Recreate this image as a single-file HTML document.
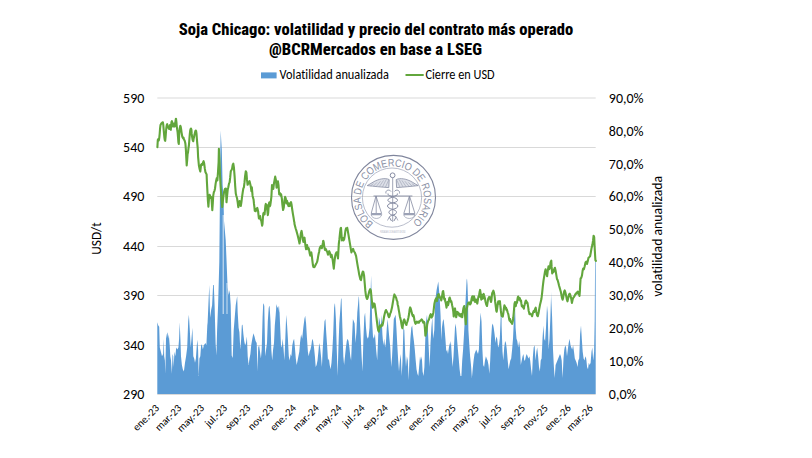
<!DOCTYPE html>
<html><head><meta charset="utf-8"><title>Soja Chicago</title>
<style>
html,body{margin:0;padding:0;background:#fff;}
svg{display:block;}
.t{font-family:"Carlito","Liberation Sans",sans-serif;fill:#000;font-variant-ligatures:none;}
.ti{font-family:"Roboto Condensed","Liberation Sans",sans-serif;font-weight:800;fill:#000;}
</style></head><body>
<svg width="812" height="458" viewBox="0 0 812 458">
<rect width="812" height="458" fill="#fff"/>

<line x1="157.3" y1="98.0" x2="595.7" y2="98.0" stroke="#d9d9d9" stroke-width="1"/>
<line x1="157.3" y1="147.5" x2="595.7" y2="147.5" stroke="#d9d9d9" stroke-width="1"/>
<line x1="157.3" y1="196.5" x2="595.7" y2="196.5" stroke="#d9d9d9" stroke-width="1"/>
<line x1="157.3" y1="246.5" x2="595.7" y2="246.5" stroke="#d9d9d9" stroke-width="1"/>
<line x1="157.3" y1="295.5" x2="595.7" y2="295.5" stroke="#d9d9d9" stroke-width="1"/>
<line x1="157.3" y1="345.5" x2="595.7" y2="345.5" stroke="#d9d9d9" stroke-width="1"/>
<line x1="157.3" y1="394.5" x2="595.7" y2="394.5" stroke="#d9d9d9" stroke-width="1"/>
<g id="seal">
<circle cx="393.5" cy="197.4" r="42.0" fill="none" stroke="#7f859c" stroke-width="1.1"/>
<circle cx="392.0" cy="197.6" r="29.6" fill="none" stroke="#9ba1b5" stroke-width="0.7"/>
<path id="sealarc" d="M 373.52 223.34 A 31.6 31.6 0 1 1 412.75 222.17" fill="none"/>
<text font-family="'Liberation Sans',sans-serif" font-size="10.6" fill="#8a90a5" textLength="156.2" lengthAdjust="spacingAndGlyphs"><textPath href="#sealarc" startOffset="0">BOLSA DE COMERCIO DE ROSARIO</textPath></text>
<g fill="none" stroke="#858ba2" stroke-width="0.8">
<circle cx="392.6" cy="175.3" r="2.4" stroke-width="1"/>
<path d="M 392.7 177.7 L 392.7 222"/>
<path d="M 389.2 179.6 C 385.5 177.6 378.5 178.8 373 182.2 C 371 183.4 369 184.6 367.2 185.6 C 374 186.4 381 187 388.8 187.6 Z" fill="#dde0e8"/>
<path d="M 396.2 179.6 C 399.9 177.6 406.9 178.8 412.4 182.2 C 414.4 183.4 416.4 184.6 418.2 185.6 C 411.4 186.4 404.4 187.0 396.6 187.6 Z" fill="#dde0e8"/>
<path d="M 370.5 185.8 L 373.5 183.6 M 373.5 186 L 377 182.4 M 376.5 186.2 L 380.5 181.2 M 379.5 186.4 L 383.5 180.4 M 382.5 186.8 L 386.2 179.6 M 385.5 187 L 388.6 180.2 M 414.9 185.8 L 411.9 183.6 M 411.9 186.0 L 408.4 182.4 M 408.9 186.2 L 404.9 181.2 M 405.9 186.4 L 401.9 180.4 M 402.9 186.8 L 399.2 179.6 M 399.9 187.0 L 396.8 180.2" stroke-width="0.45"/>
<path d="M 373.5 196 L 412.4 196" stroke-width="0.9"/>
<path d="M 386 193.5 C 385 190 389.5 189 391 191.5 M 399.4 193.5 C 400.4 190 395.9 189 394.4 191.5" stroke-width="0.9"/>
<path d="M 376 196 L 371.2 213.4 M 376 196 L 381.6 213.4 M 376.2 196 L 376.2 213.4 M 409.5 196 L 403.8 213.4 M 409.5 196 L 414.9 213.4 M 409.4 196 L 409.4 213.4"/>
<path d="M 371 213 L 381.8 213 L 381.6 215.2 L 371.2 215.2 Z M 403.6 213 L 415 213 L 414.8 215.2 L 403.8 215.2 Z" fill="#9ca2b6" stroke="none"/>
<path d="M 371 214.5 C 372 219.8 380.8 219.8 381.8 214.5 M 403.6 214.5 C 404.6 219.8 414 219.8 415 214.5" stroke-width="0.6"/>
<path d="M 388 193.5 C 386 196 398.5 197.5 397.5 200.5 C 396.5 203.5 387.5 202.5 387.5 206 C 387.5 209.5 397 209 396.5 212.5 C 396 215.5 389 215 389.5 217.5 L 391.5 221" stroke-width="1"/>
<path d="M 397.4 193.5 C 399.4 196 386.9 197.5 387.9 200.5 C 388.9 203.5 397.9 202.5 397.9 206 C 397.9 209.5 388.4 209 388.9 212.5 C 389.4 215.5 396.4 215 395.9 217.5 L 393.9 221" stroke-width="1"/>
<path d="M 389.5 216.5 L 387.5 220.5 M 395.9 216.5 L 397.9 220.5" stroke-width="0.7"/>
</g>
<text x="392.7" y="233" font-family="'Liberation Sans',sans-serif" font-size="2.6" fill="#a3a8ba" text-anchor="middle" textLength="25" lengthAdjust="spacingAndGlyphs">FUNDADA EL 18 DE AGOSTO DE 1884</text>
</g>
<polygon points="157.3,394 157.3,322.3 158.3,325.6 159.2,326.7 159.8,347.5 160.9,351.8 162,356.2 163.1,354 163.8,338.7 164.2,356.2 164.9,360.6 165.3,373.7 166,338.7 166.8,334.3 167.5,332.2 168.1,338.7 168.8,334.3 169.7,345.3 170.3,356.2 171,360.6 171.9,373.7 172.5,354 173.2,356.2 173.6,367.1 174.5,351.8 175.4,356.2 176.2,347.5 177.3,349.6 178.4,347.5 179.1,338.7 179.7,322.3 180.4,338.7 181,356.2 181.9,364.9 182.8,369.3 183.9,371.5 185,362.8 186.1,356.2 187.2,347.5 188.2,321.2 188.9,314.7 189.8,330 190.7,347.5 191.5,338.7 192.4,327.8 193.3,356.2 194.2,358.4 195,362.8 195.9,358.4 196.8,345.3 197.4,339.8 198.1,349.6 198.7,375.9 199.4,358.4 200.3,356.2 201.2,344.2 202,345.3 202.9,349.6 203.8,345.3 204.6,344.2 205.5,343.1 206.4,345.3 207.3,325.6 207.6,322.8 208.6,300.1 209.3,285 210.1,317.7 211.1,310.2 212.1,305.2 213.1,285 213.8,285 214.6,305.2 215.6,342.9 216.4,355.5 217.1,330.3 218.1,305.2 219.3,262 219.9,200 220.4,150 220.7,130.5 221.2,140 221.8,150 222.6,185 223.4,195 224,221 225.7,240 226.6,262 227.3,280 227.7,287.6 228.7,295.1 229.7,290.1 230.7,305.2 231.7,355.5 232.7,358 233.7,330.3 234.7,317.7 235.7,305.2 237,297.2 237.2,296.2 237.7,312.5 238.6,327.8 239.4,332.2 240.3,349.6 241.2,338.7 241.8,325.6 242.5,324.5 243.4,334.3 244.2,340.9 245.1,345.3 246,343.1 246.9,336.5 247.7,356.2 248.6,364.9 249.5,358.4 250.4,354 251.2,345.3 252.3,338.7 253.4,333.2 254.5,336.5 255.6,340.9 256.7,343.1 257.4,371.5 258.2,347.5 259.1,345.3 260,351.8 260.9,358.4 261.7,349.6 262.6,316.9 263.2,303.7 263.6,303.6 264.3,305.9 265.2,356.2 266.1,349.6 267,343.1 267.8,321.2 268.7,308.1 269.2,306.3 269.6,305.9 270.5,321.2 271.3,349.6 272.2,360.6 273.1,349.6 274,343.1 274.8,325.6 275.7,314.7 276.5,303.6 276.6,304.8 277.5,308.1 278.3,305.9 279.2,312.5 279.3,305.4 280.1,325.6 281,345.3 281.8,347.5 282.7,338.7 283.6,349.6 284.4,360.6 285.3,338.7 286.2,314.7 287.1,325.6 287.9,338.7 288.8,356.2 289.7,360.6 290.6,354 291.4,356.2 292.3,345.3 293.2,340.9 294.1,338.7 294.9,347.5 295.8,358.4 296.7,364.9 297.6,360.6 298.4,356.2 299.3,351.8 300,343.1 301.1,334.3 302.2,338.7 303.3,327.8 304.4,319 305.2,315.8 306.1,323.4 307,338.7 307.9,351.8 308.7,356.2 309.6,351.8 310.5,349.6 311.4,345.3 312.2,338.7 313.1,340.9 314,347.5 314.9,356.2 315.7,367.1 316.6,364.9 317.5,360.6 318.4,351.8 319.2,343.1 320.1,347.5 321,356.2 321.9,367.1 322.7,349.6 323.6,334.3 324.5,321.2 325.4,319 326.2,332.2 327.1,345.3 328,360.6 328.9,358.4 329.7,364.9 330.6,369.3 331.5,362.8 332.4,349.6 333.2,334.3 334.1,308.1 334.7,303.6 335,303.7 335.9,319 336.7,347.5 337.6,375.9 338.5,345.3 339.3,323.4 340.4,308.1 341,299 341.5,298.3 342.4,327.8 343.3,356.2 344.1,364.9 345,356.2 345.9,347.5 346.8,340.9 347.6,338.7 348.5,340.9 349.4,347.5 350.3,356.2 351.1,360.6 352,338.7 352.9,319 353.8,321.2 354.6,323.4 355.5,343.1 356.4,332.2 357.3,312.5 358.1,303.7 358.7,296.2 359,297.2 359.9,321.2 360.8,338.7 361.6,356.2 362.5,371.5 363.4,338.7 364.3,316.9 365.1,312.5 366,327.8 366.9,336.5 367.8,338.7 368.6,336.5 369.5,327.8 370.2,305 370.7,290 371.1,275.5 371.5,290 371.9,310 372.1,321.2 373,336.5 373.9,338.7 374.8,334.3 375,334.3 376.1,349.6 377.2,360.6 378.1,338.7 378.9,316.9 379.8,321.2 380.7,327.8 381.6,314.7 382.4,334.3 383.3,345.3 384.2,338.7 385.1,347.5 385.9,343.1 386.8,327.8 387.7,319 388.6,330 389.4,338.7 390.3,347.5 391.2,367.1 392.1,356.2 392.9,338.7 393.8,319 394.7,316.9 395.6,314.7 396.4,327.8 397.3,345.3 398.2,360.6 399,371.5 399.9,360.6 400.8,354 401.7,375.9 402.5,360.6 403.4,327.8 404.3,330 405.2,354 406,367.1 406.9,356.2 407.8,360.6 408.7,380.2 409.5,356.2 410.4,338.7 411.3,327.8 412.2,325.6 413,334.3 413.9,340.9 414.8,349.6 415.7,360.6 416.5,369.3 417.4,373.7 418.3,375.9 419.1,367.1 420,356.2 420.9,360.6 421.8,356.2 422.6,371.5 423.5,375.9 424.4,367.1 425.3,338.7 426.1,321.2 427,314.7 427.9,330 428.8,349.6 429.6,367.1 430.5,343.1 431.4,327.8 432.3,316.9 433.1,338.7 434.3,330 435.3,300 436.6,290 438.3,281.5 439.2,292 439.8,300 440.6,316 441.3,340 441.9,327.8 442.8,321.2 443.6,319 444.5,327.8 445.4,338.7 446.3,351.8 447.1,349.6 448,354 448.9,347.5 449.8,343.1 450,345.3 450.9,340.9 451.8,356.2 452.6,367.1 453.5,356.2 454.4,338.7 455.2,323.4 456.1,327.8 457,338.7 457.9,349.6 458.7,358.4 459.6,369.3 460.5,375.9 461.4,375.9 462.2,360.6 463.1,349.6 464,334.3 464.9,316.9 465.6,300 466.6,280 467,278.6 467.5,285 468,300 468.4,330 469.2,343.1 470.1,356.2 471,364.9 471.9,378.1 472.7,369.3 473.6,360.6 474.5,354 475.4,351.8 476.2,349.6 477.1,351.8 478,354 478.9,349.6 479.7,327.8 480.6,312.5 481.5,321.2 482.4,349.6 483.2,364.9 484.1,367.1 485,360.6 485.9,356.2 486.7,358.4 487.6,360.6 488.5,364.9 489.3,373.7 490.2,360.6 491.1,338.7 492,325.6 492.8,323.4 493.7,327.8 494.6,334.3 495.5,343.1 496.3,336.5 497.2,338.7 498.1,347.5 499,345.3 499.8,338.7 500.7,316.9 501.5,305.3 501.6,325.6 502.5,351.8 503.3,360.6 504.2,347.5 505.1,340.9 506,343.1 506.8,349.6 507.7,360.6 508.6,369.3 509.4,364.9 510.3,360.6 511.2,358.4 512.1,349.6 513,338.7 513.8,321.2 514.7,312.5 515.1,308.5 515.6,327.8 516.5,338.7 517.3,340.9 518.2,347.5 519.1,340.9 520,347.5 520.8,364.9 521.7,360.6 522.6,356.2 523.4,354 524.3,360.6 525,360.6 525.9,356.2 526.8,354 527.6,356.2 528.5,358.4 529.4,356.2 530.2,360.6 531.1,369.3 532,375.9 532.9,356.2 533.7,347.5 534.6,345.3 535.5,360.6 536.4,351.8 537.2,347.5 538.1,356.2 539,367.1 539.9,371.5 540.7,360.6 541.6,358.4 542.5,338.7 543.4,325.6 544.2,338.7 545.1,340.9 546,327.8 546.9,308.1 547,305.4 547.7,312.5 548.6,349.6 549.5,338.7 550.4,316.9 551.2,291.6 551.2,297.2 552.1,316.9 553,349.6 553.9,367.1 554.7,378.1 555.6,364.9 556.5,362.8 557.4,360.6 558.2,358.4 559.1,356.2 560,354 560.9,356.2 561.7,360.6 562.6,378.1 563.5,358.4 564.3,349.6 565.2,345.3 566.1,347.5 567,356.2 567.8,349.6 568.7,343.1 569.6,338.7 570.5,345.3 571.3,347.5 572.2,349.6 573.1,345.3 574,351.8 574.8,358.4 575.7,360.6 576.6,362.8 577.5,367.1 578.3,360.6 579.2,358.4 580.1,334.3 581,325.6 581.8,338.7 582.7,351.8 583.6,358.4 584.5,360.6 585.3,356.2 586.2,358.4 587.1,367.1 588,369.3 588.8,362.8 589.7,364.9 590.6,362.8 591.5,351.8 592.3,347.5 593.2,360.6 594.1,351.8 594.7,320 595.1,262 595.7,262 595.7,394" fill="#5b9bd5"/>
<line x1="223.2" y1="215" x2="223.2" y2="314" stroke="#fff" stroke-width="0.8"/><line x1="227.0" y1="283" x2="227.0" y2="314" stroke="#fff" stroke-width="0.7"/>
<polyline points="157.4,147.1 157.8,140 158.2,139.2 158.5,140.8 158.9,140 159.3,137.6 159.7,133.7 160.1,128.2 160.5,125 160.9,124.2 161.3,123.5 162.1,122.7 162.9,122.3 163.3,125 163.7,129.8 164.1,134.5 164.4,137.6 164.8,140 165.2,140.8 165.6,136.8 166,131.3 166.4,127.4 166.8,125 167.2,124.2 167.6,125.8 168,127.4 168.4,126.6 168.8,128.2 169.2,129 169.6,126.6 170,125 170.3,127.4 170.8,129.8 171.1,125.8 171.5,121.9 171.9,121.1 172.3,122.7 172.7,125.8 173.1,126.6 173.5,124.2 173.9,123.5 174.3,125 174.7,126.6 175.1,125 175.5,121.1 175.9,118.7 176,118.7 176.4,121.9 176.8,126.6 177.2,129.7 177.6,132.1 178,136.8 178.4,142.3 178.8,143.9 179.1,136 179.5,129.7 179.9,127.4 180.3,125.8 180.7,126.6 181.1,129 181.5,132.1 181.9,134.5 182.3,136.8 182.7,137.6 183.1,138.4 183.5,137.6 183.9,139.2 184.3,140 184.7,140.8 185.1,142.3 185.4,143.7 185.9,150 186.3,158 186.7,165.5 187.2,160 187.6,154 188,152.5 188.5,148 188.9,145.5 189.4,139 189.8,134 190.2,130.5 190.6,129 191,128.6 191.4,129.7 191.7,133.7 192.1,136.8 192.5,139.2 192.9,140.8 193.3,141.2 193.7,138.4 194.1,136.8 194.5,134.5 194.9,132.9 195.3,131.3 195.7,130.5 196.1,130.9 196.5,133.7 196.9,139.2 197.3,143.9 197.7,147.9 198.1,156.8 198.9,165.5 199.6,169 200.3,171.6 201.1,164.7 202,163.8 202.4,164.8 203,162.4 203.6,161.2 204.2,163.6 204.8,168.4 205.4,172 206,173.2 206.6,174.4 206.9,181.6 207.4,191.1 207.9,200.7 208.4,206.7 209,198.3 209.6,194.7 210.2,195.9 210.8,198.3 211.4,197.1 212,205.5 212.3,210.3 212.8,203.1 213.2,195.9 213.8,192.3 214.4,191.1 215,188.7 215.6,183.9 216.2,180.4 216.8,178 217.4,180.4 218,172 218.6,162.4 218.9,148.7 219.5,161 220,175 220.6,186 221.2,195 221.8,203 222.3,207 222.8,202 223.4,196.5 224,192.3 224.6,189.9 225.1,188.7 225.9,188.6 226.5,202.3 227.1,196 227.7,189.8 228.3,187.3 229,183.6 229.6,182.4 230.2,177.4 230.8,171.2 231.5,169.9 232.1,168.7 232.7,164.9 233.3,163.7 233.9,167.4 234.6,176.1 235.2,186.1 235.8,193.6 236.4,196 237.1,198.5 237.7,202.3 238.3,207.2 238.9,204.8 239.6,201 240.2,203.5 240.8,206 241.4,202.3 242,197.3 242.7,192.3 243.3,188.6 243.9,187.3 244.5,182.4 245.1,176.1 245.8,171.2 246.4,172.4 247,179.9 247.6,184.8 248.2,183.6 248.9,182.4 249.5,181.1 250.1,183.6 250.7,186.1 251.4,191.1 251.8,187.2 252.6,195.9 253.6,199.8 254,203.9 254.4,207.1 254.8,210.8 255.7,211.2 256.5,208.7 257.3,207.9 258.1,211.2 258.5,215.2 258.9,218.4 259.7,217.6 260.1,216 260.5,219.2 261.3,220.9 262.1,225.7 262.5,224.1 262.9,217.6 263.3,213.6 263.7,212.8 264.6,214.4 265,209.6 265.4,205.5 265.8,203.9 266.2,207.1 266.6,204.7 267,208.7 267.4,211.2 267.8,215.2 268.2,212.8 268.6,207.1 269,203.1 269.4,202.3 269.8,206.3 270.2,205.5 270.6,203.1 271,199.8 271.4,196.6 272,185.1 272.6,186.4 273.3,189 273.9,183.8 274.6,179.9 275.2,176.6 275.9,179.9 276.6,187.7 277.2,183.8 277.9,181.2 278.5,185.1 279.2,194.3 279.8,193 280.5,195.6 281.1,194.3 281.8,198.2 282.4,204.8 283.1,210 283.8,207.4 284.4,200.8 285.1,196.9 285.7,198.2 286.4,203.4 287,200.8 287.7,203.4 288.4,206.1 289,203.4 289.7,206.1 290.3,203.4 291,202.1 291.6,204.8 292.3,210 292.9,213.9 293.6,217.9 294.2,221.8 294.4,222.2 294.5,224.1 295.6,228.3 296.6,231.4 297.7,235.6 298.7,239.8 299.5,243.5 300.1,239.8 300.8,233.5 301.6,230.9 302.2,234.6 302.9,239.8 303.4,241.9 304,238.8 304.5,237.7 305,241.9 305.5,246.1 306.1,249.3 306.6,247.2 307.1,245.1 307.6,248.2 308.2,249.3 308.7,248.2 309.2,250.3 309.7,253.5 310.3,255.6 310.8,253.5 311.3,252.4 311.8,255.6 312.4,260.8 312.9,265 313.4,267.1 313.9,266.6 314.5,267.1 315,266.1 315.5,265 316,264 316.6,262.9 317.1,261.9 317.6,259.8 318.1,256.6 318.7,253.5 319.2,251.4 319.7,248.2 320.2,247.2 320.8,246.1 321.3,247.2 321.8,248.2 322.3,246.1 322.9,243 323.2,241 323.4,240.9 323.8,242.8 324.4,247.6 325,250 325.6,248.8 326.2,250 326.8,251.2 327.4,252.4 328,254.8 328.6,252.4 329.2,251.2 329.8,252.4 330.4,254.8 331,257.2 331.6,254.8 332.2,257.2 332.8,260.8 333.4,265.6 333.8,268.6 334.2,264.4 334.7,259.6 335.2,256 335.8,253.6 336.4,252.4 337,252.4 337.6,256 338,258.4 338.4,251.2 338.8,244 339.4,239.2 340,233.2 340.6,228.4 341,227.8 341.4,233.2 341.9,240.4 342.4,239.2 343,238 343.6,240.4 344.2,239.2 344.8,235.6 345.4,230.8 346,228.4 346.6,229.6 347.2,227.8 347.8,230.8 348.4,234.4 349,238 349.6,241.6 350.2,245.2 350.8,248.8 351.4,252.4 351.8,251.3 352.4,250.1 353.1,248.9 353.7,250.7 354.3,251.9 354.9,252.6 355.5,254.4 356.1,256.2 356.7,259.9 357.3,263.6 357.9,267.2 358.6,270.9 359.2,274.6 359.8,277 360.4,279.4 361,280.1 361.6,277 362.2,273.3 362.8,271.5 363.4,272.1 364.1,275.8 364.7,283.1 365.3,290.4 365.9,295.3 366.5,297.8 367.1,299 367.7,297.8 368.3,295.3 368.9,292.9 369.6,290.4 370.2,289.2 370.8,290.4 371,292 371.6,298 372.2,304 372.8,307.6 373.4,305.2 374,303.4 374.6,304 375.2,307.6 375.8,312.4 376.4,317.2 377,322 377.6,326.8 378.2,330.4 378.8,331.6 379.4,328 380,325.6 380.6,326.8 381.2,325.6 381.8,324.4 382.4,325.6 383,323.2 383.6,319.6 384.2,316 384.8,313.6 385.4,311.2 386,310 386.6,311.2 387.2,312.4 387.8,313.6 388.4,316 389,317.2 389.6,316 390.2,313.6 390.8,312.4 391.4,310 392,307.6 392.6,304 393.2,300.4 393.8,296.8 394.4,294.4 395,295.6 395.6,296.8 396.2,298 396.8,300.4 397.4,301.6 397.6,304.2 398.2,306.4 398.7,309.6 399.3,312.9 399.8,316.2 400.4,318.4 400.9,320.5 401.4,323.8 402,327.1 402.5,328.2 403.1,323.8 403.6,320.5 404.2,319.4 404.7,320.5 405.3,322.7 405.8,323.8 406.4,324.9 406.9,322.7 407.4,321.6 408,319.4 408.5,317.3 409.1,314 409.6,309.6 410.2,307.4 410.7,308.5 411.3,310.7 411.8,312.9 412.4,315.1 412.9,316.2 413.4,315.1 414,317.3 414.5,320.5 415.1,322.7 415.6,323.8 416.2,322.7 416.7,321.6 417.3,322.2 417.8,322.7 418.4,321.6 418.9,322.7 419.4,321.6 420,321.1 420.5,320.5 421.1,320 421.6,319.4 422.2,320 422.7,321.6 423.3,322.7 423.8,321.6 424.4,322.7 424.9,328.2 425.4,335.8 426.4,331.6 427.2,324.6 428.1,321.1 429,319.4 429.9,315.9 430.7,314.1 431.6,317.6 432.5,315.9 433.4,312.4 434.4,303.7 435.2,300.2 436.1,298.4 437,301.1 437.9,294.9 438.7,294.1 439.6,297.6 440,297.1 440.8,297.9 441.2,300.4 441.6,299.1 442,296.3 442.4,293.9 442.8,291.5 443.2,291.1 443.6,293.9 444,297.9 444.4,299.6 444.9,298.7 445.2,301.2 445.7,302.8 446.1,305.2 446.5,307.6 446.9,305.2 447.3,302 447.7,303.6 448.1,305.2 448.5,303.6 448.9,300.4 449.3,298.3 449.7,297.5 450.1,298.7 450.5,300.4 450.9,302 451.3,301.2 451.7,302.8 452.1,305.2 452.5,306.8 452.9,309.2 453.3,311.7 453.7,316.5 454.1,313.3 454.6,309.2 455,308.4 455.4,311.7 455.8,314.9 456.2,317.3 456.6,314.9 457,311.7 457.4,312.5 457.8,314.1 458.2,312.5 458.6,313.3 459,314.9 459.4,315.7 459.8,314.1 460.2,314.9 460.6,316.5 461,315.7 461.4,314.1 461.8,314.9 462.2,317.3 462.6,314.1 463,310.9 463.4,308.4 463.9,306.8 464.2,306 464.7,309.2 465.1,316.5 465.5,321.4 465.8,324.3 466.3,314.1 466.7,309.2 467.5,305.2 468.3,302.8 469.1,302.4 469.9,302.8 470,304.4 470.8,303.6 471.2,301.2 471.6,298.7 472,297.1 472.4,296.3 472.8,297.9 473.2,300.4 473.6,298.7 474,296.3 474.4,297.9 474.9,300.4 475.2,302 475.7,301.2 476.1,299.6 476.5,301.2 476.9,302.4 477.3,303.6 477.7,301.2 478.1,298.7 478.5,296.3 478.9,297.1 479.3,293.9 479.7,291.5 480.1,289.9 480.5,292.3 480.9,296.3 481.3,299.6 481.7,297.1 482.1,294.7 482.5,297.1 482.9,298.7 483.3,295.5 483.7,293.9 484.1,295.5 484.6,297.1 485,298.7 485.4,301.2 485.8,302.8 486.2,304.4 486.6,305.2 487,306 487.4,303.6 487.8,301.2 488.2,298.7 488.6,297.9 489,297.1 489.4,298.7 489.8,297.1 490.2,297.9 490.6,300.4 491,302 491.4,300.4 491.8,296.3 492.2,293.1 492.6,292.3 493,291.9 493.4,290.7 493.9,292.3 494.2,293.9 494.7,297.1 495.1,301.2 495.5,304.4 495.9,307.6 496.3,310.9 496.7,311.7 497.1,309.2 497.5,306 497.9,302.8 498.3,301.2 498.7,303.6 499.1,302.8 499.5,302 499.9,301.2 500.4,306.2 500.8,310.2 501.2,313.4 501.6,315.9 502,314.2 502.4,315.1 502.8,316.7 503.2,314.2 503.6,311 504,307.8 504.4,305.4 504.9,306.2 505.2,307.8 505.7,308.6 506.1,307.8 506.5,310.2 506.9,309.4 507.3,311 507.7,312.6 508.1,313.4 508.5,315.1 508.9,317.5 509.3,319.9 509.7,320.7 510.1,319.1 510.5,320.7 510.9,322.3 511.3,321.5 511.7,323.1 512.1,323.9 512.5,322.3 512.9,320.7 513.3,317.5 513.7,313.4 514.1,308.6 514.5,303.7 515,302.1 515.4,302.9 515.8,306.2 516.2,303.7 516.6,302.1 517,302.9 517.4,299.7 517.8,297.3 518.2,296.5 518.6,298.1 519,299.7 519.4,298.9 519.8,298.1 520.2,299.7 520.6,301.3 521,300.5 521.4,303.7 521.8,306.2 522.2,305.4 522.6,307 523,306.2 523.4,307.8 523.9,308.6 524.2,306.2 524.7,304.6 525.1,302.9 525.5,301.3 525.9,300.5 526.3,301.3 526.7,302.9 527.1,302.1 527.5,302.9 527.9,305.4 528.3,307.8 528.7,311 529.1,312.6 529.5,314.2 529.9,313.4 530.7,314 531.4,314.7 532.1,316.2 532.8,313.3 533.6,311.2 534.3,311.9 535,309.1 535.7,307.6 536.4,311.9 537.1,315.5 537.8,316.2 538.5,313.3 539.2,309.1 540,304.8 540.7,301.9 541.4,299.1 542.1,293.4 542.8,286.3 543.5,280.6 544.2,276.3 544.9,272.1 545.6,269.2 546.4,273.5 547.1,276.3 547.8,270.6 548.5,266.4 549.2,269.2 549.9,267.8 550.6,262.1 551.3,260.7 551.6,266.4 552.2,273.5 552.8,270.6 553.5,272.1 554.2,269.2 554.9,267.8 555.6,270.6 556.3,274.9 557,279.2 557.6,280 558.5,283.3 559,285.5 559.5,287.1 560.1,289.3 560.9,292 561.5,295.3 562,298 562.6,299.7 563.1,298 563.6,294.8 564.2,291.5 564.7,290.4 565.3,292 565.8,294.2 566.4,296.9 566.9,299.7 567.5,301.3 568,299.1 568.6,296.4 569.1,294.2 569.7,293.7 570.2,294.8 570.8,296.9 571.3,299.1 571.9,302.9 572.4,300.8 572.9,298.6 573.5,297.5 574,296.9 574.6,295.9 575.1,294.8 575.7,293.7 576.2,293.1 576.8,293.7 577.3,292 577.9,291.5 578.4,292 579,294.2 579.5,295.9 579.9,290.9 580.1,286.1 580.6,278.5 581.3,277.7 582,275.4 582.6,270.8 583.2,268.5 583.9,269.3 584.7,266.2 585.5,262.4 586.2,261.6 587,263.9 587.8,260.9 588.5,257.8 589.3,257.1 590.1,256.3 590.8,252.5 591.6,247.9 592.4,244.8 593.1,240.2 593.6,235.7 594.2,237.2 594.6,246.3 595.1,255.5 595.4,260.1 595.9,260.9" fill="none" stroke="#62a63c" stroke-width="2.1" stroke-linejoin="round" stroke-linecap="round"/>
<text class="ti" x="376" y="34.5" font-size="16.5" text-anchor="middle" textLength="394.5" lengthAdjust="spacingAndGlyphs">Soja Chicago: volatilidad y precio del contrato más operado</text>
<text class="ti" x="375.5" y="54.9" font-size="16.5" text-anchor="middle" textLength="213" lengthAdjust="spacingAndGlyphs">@BCRMercados en base a LSEG</text>
<rect x="261" y="72.4" width="15.6" height="6" fill="#5b9bd5"/>
<text class="t" x="279.6" y="78.7" font-size="13.3" textLength="109.3" lengthAdjust="spacingAndGlyphs">Volatilidad anualizada</text>
<line x1="405.5" y1="75" x2="423.7" y2="75" stroke="#62a63c" stroke-width="2"/>
<text class="t" x="425.5" y="78.7" font-size="13.3" textLength="69.1" lengthAdjust="spacingAndGlyphs">Cierre en USD</text>
<text class="t" x="144.4" y="102.6" font-size="14" text-anchor="end" textLength="21.3" lengthAdjust="spacingAndGlyphs">590</text>
<text class="t" x="144.4" y="152.1" font-size="14" text-anchor="end" textLength="21.3" lengthAdjust="spacingAndGlyphs">540</text>
<text class="t" x="144.4" y="201.1" font-size="14" text-anchor="end" textLength="21.3" lengthAdjust="spacingAndGlyphs">490</text>
<text class="t" x="144.4" y="251.1" font-size="14" text-anchor="end" textLength="21.3" lengthAdjust="spacingAndGlyphs">440</text>
<text class="t" x="144.4" y="300.1" font-size="14" text-anchor="end" textLength="21.3" lengthAdjust="spacingAndGlyphs">390</text>
<text class="t" x="144.4" y="350.1" font-size="14" text-anchor="end" textLength="21.3" lengthAdjust="spacingAndGlyphs">340</text>
<text class="t" x="144.4" y="399.1" font-size="14" text-anchor="end" textLength="21.3" lengthAdjust="spacingAndGlyphs">290</text>
<text class="t" x="608.8" y="102.6" font-size="14" textLength="34.8" lengthAdjust="spacingAndGlyphs">90,0%</text>
<text class="t" x="608.8" y="135.5" font-size="14" textLength="34.8" lengthAdjust="spacingAndGlyphs">80,0%</text>
<text class="t" x="608.8" y="168.5" font-size="14" textLength="34.8" lengthAdjust="spacingAndGlyphs">70,0%</text>
<text class="t" x="608.8" y="201.4" font-size="14" textLength="34.8" lengthAdjust="spacingAndGlyphs">60,0%</text>
<text class="t" x="608.8" y="234.4" font-size="14" textLength="34.8" lengthAdjust="spacingAndGlyphs">50,0%</text>
<text class="t" x="608.8" y="267.3" font-size="14" textLength="34.8" lengthAdjust="spacingAndGlyphs">40,0%</text>
<text class="t" x="608.8" y="300.3" font-size="14" textLength="34.8" lengthAdjust="spacingAndGlyphs">30,0%</text>
<text class="t" x="608.8" y="333.2" font-size="14" textLength="34.8" lengthAdjust="spacingAndGlyphs">20,0%</text>
<text class="t" x="608.8" y="366.2" font-size="14" textLength="34.8" lengthAdjust="spacingAndGlyphs">10,0%</text>
<text class="t" x="608.8" y="399.1" font-size="14" textLength="27.7" lengthAdjust="spacingAndGlyphs">0,0%</text>
<text class="t" transform="translate(100.8,238.5) rotate(-90)" font-size="13.3" text-anchor="middle" textLength="32.4" lengthAdjust="spacingAndGlyphs">USD/t</text>
<text class="t" transform="translate(662.0,236.3) rotate(-90)" font-size="13.3" text-anchor="middle" textLength="121" lengthAdjust="spacingAndGlyphs">volatilidad anualizada</text>
<text class="t" transform="translate(159.8,408.8) rotate(-45)" font-size="10.6" text-anchor="end" textLength="32.19" lengthAdjust="spacingAndGlyphs">ene.-23</text>
<text class="t" transform="translate(182.0,408.8) rotate(-45)" font-size="10.6" text-anchor="end" textLength="32.25" lengthAdjust="spacingAndGlyphs">mar.-23</text>
<text class="t" transform="translate(204.9,408.8) rotate(-45)" font-size="10.6" text-anchor="end" textLength="33.52" lengthAdjust="spacingAndGlyphs">may.-23</text>
<text class="t" transform="translate(227.8,408.8) rotate(-45)" font-size="10.6" text-anchor="end" textLength="26.61" lengthAdjust="spacingAndGlyphs">jul.-23</text>
<text class="t" transform="translate(251.1,408.8) rotate(-45)" font-size="10.6" text-anchor="end" textLength="31.06" lengthAdjust="spacingAndGlyphs">sep.-23</text>
<text class="t" transform="translate(274.0,408.8) rotate(-45)" font-size="10.6" text-anchor="end" textLength="31.09" lengthAdjust="spacingAndGlyphs">nov.-23</text>
<text class="t" transform="translate(296.9,408.8) rotate(-45)" font-size="10.6" text-anchor="end" textLength="32.19" lengthAdjust="spacingAndGlyphs">ene.-24</text>
<text class="t" transform="translate(319.5,408.8) rotate(-45)" font-size="10.6" text-anchor="end" textLength="32.25" lengthAdjust="spacingAndGlyphs">mar.-24</text>
<text class="t" transform="translate(342.4,408.8) rotate(-45)" font-size="10.6" text-anchor="end" textLength="33.52" lengthAdjust="spacingAndGlyphs">may.-24</text>
<text class="t" transform="translate(365.3,408.8) rotate(-45)" font-size="10.6" text-anchor="end" textLength="26.61" lengthAdjust="spacingAndGlyphs">jul.-24</text>
<text class="t" transform="translate(388.6,408.8) rotate(-45)" font-size="10.6" text-anchor="end" textLength="31.06" lengthAdjust="spacingAndGlyphs">sep.-24</text>
<text class="t" transform="translate(411.5,408.8) rotate(-45)" font-size="10.6" text-anchor="end" textLength="31.09" lengthAdjust="spacingAndGlyphs">nov.-24</text>
<text class="t" transform="translate(434.4,408.8) rotate(-45)" font-size="10.6" text-anchor="end" textLength="32.19" lengthAdjust="spacingAndGlyphs">ene.-25</text>
<text class="t" transform="translate(456.5,408.8) rotate(-45)" font-size="10.6" text-anchor="end" textLength="32.25" lengthAdjust="spacingAndGlyphs">mar.-25</text>
<text class="t" transform="translate(479.5,408.8) rotate(-45)" font-size="10.6" text-anchor="end" textLength="33.52" lengthAdjust="spacingAndGlyphs">may.-25</text>
<text class="t" transform="translate(502.4,408.8) rotate(-45)" font-size="10.6" text-anchor="end" textLength="26.61" lengthAdjust="spacingAndGlyphs">jul.-25</text>
<text class="t" transform="translate(525.7,408.8) rotate(-45)" font-size="10.6" text-anchor="end" textLength="31.06" lengthAdjust="spacingAndGlyphs">sep.-25</text>
<text class="t" transform="translate(548.6,408.8) rotate(-45)" font-size="10.6" text-anchor="end" textLength="31.09" lengthAdjust="spacingAndGlyphs">nov.-25</text>
<text class="t" transform="translate(571.5,408.8) rotate(-45)" font-size="10.6" text-anchor="end" textLength="32.19" lengthAdjust="spacingAndGlyphs">ene.-26</text>
<text class="t" transform="translate(593.6,408.8) rotate(-45)" font-size="10.6" text-anchor="end" textLength="32.25" lengthAdjust="spacingAndGlyphs">mar.-26</text>
</svg></body></html>
